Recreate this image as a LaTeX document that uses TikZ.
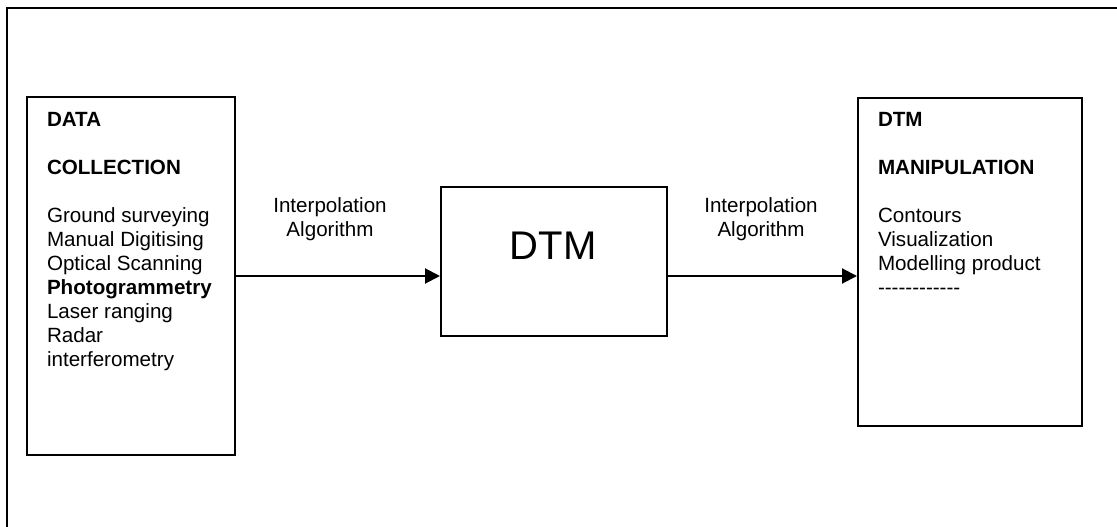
\documentclass[tikz,border=0pt]{standalone}
\usepackage{fontspec}
\setmainfont{Liberation Sans}[Ligatures=TeXOff]
\usetikzlibrary{arrows.meta}
\tikzset{box/.style={draw,anchor=north west,inner sep=0},
txt/.style={font=\fontsize{20.6}{24}\selectfont,inner sep=0}}
\begin{document}
\begin{tikzpicture}[x=1pt,y=-1pt,line width=2pt]
\useasboundingbox(0,0)rectangle(1117,527);
\draw(7,528)--(7,8)--(1118,8);
\node[box,minimum width=208pt,minimum height=358pt](coll)at(26,96){};
\node[box,minimum width=226pt,minimum height=149pt](dtm)at(440,186){};
\node[box,minimum width=224pt,minimum height=328pt](manip)at(857,97){};
\node[txt,anchor=north west,align=left](colltext)at(46,111.5){\textbf{DATA}\\[24pt]
\textbf{COLLECTION}\\[24pt]Ground surveying\\Manual Digitising\\Optical Scanning\\
\textbf{Photogrammetry}\\Laser ranging\\Radar\\interferometry};
\node[txt,anchor=north west,align=left](maniptext)at(877,111.5){\textbf{DTM}\\[24pt]
\textbf{MANIPULATION}\\[24pt]Contours\\Visualization\\Modelling product\\------------};
\node[font=\fontsize{40}{48}\selectfont,anchor=base,inner sep=0](dtmtext)at(553,259){DTM};
\node[txt,anchor=north,align=center](algo1)at(330,197){Interpolation\\Algorithm};
\node[txt,anchor=north,align=center](algo2)at(761,197){Interpolation\\Algorithm};
\draw[-{Triangle[length=15pt,width=15pt]}](coll.east)--(coll.east-|dtm.west);
\draw[-{Triangle[length=15pt,width=15pt]}](coll.east-|dtm.east)--(coll.east-|manip.west);
\end{tikzpicture}
\end{document}
